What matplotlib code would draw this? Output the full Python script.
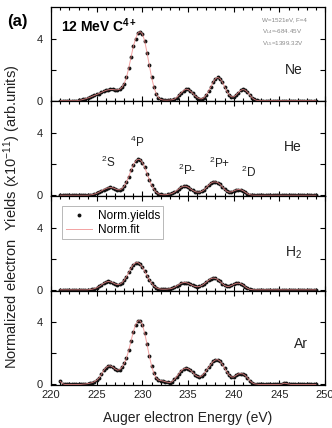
import numpy as np
import matplotlib
matplotlib.use('Agg')
import matplotlib.pyplot as plt
from matplotlib.ticker import MultipleLocator, FixedLocator

plt.rcParams['font.family'] = ['Liberation Sans', 'DejaVu Sans']
plt.rcParams['mathtext.fontset'] = 'custom'
plt.rcParams['mathtext.rm'] = 'Liberation Sans'
plt.rcParams['mathtext.it'] = 'Liberation Sans:italic'
plt.rcParams['mathtext.bf'] = 'Liberation Sans:bold'

# energy grid of the read-off points (eV), 0.25 eV step
energy = np.arange(221.0, 249.01, 0.25)

gases = ['Ne', 'He', 'H$_2$', 'Ar']

ne_yield = [
    0, 0, 0, 0,
    0, 0, 0, 0,
    0.02, 0.04, 0.08, 0.12,
    0.17, 0.22, 0.28, 0.34,
    0.40, 0.46, 0.53, 0.60,
    0.66, 0.70, 0.72, 0.72,
    0.70, 0.70, 0.74, 0.85,
    1.10, 1.50, 2.10, 2.80,
    3.50, 4.00, 4.35, 4.45,
    4.30, 3.85, 3.10, 2.30,
    1.50, 0.90, 0.45, 0.20,
    0.08, 0.04, 0.03, 0.03,
    0.04, 0.06, 0.10, 0.20,
    0.35, 0.50, 0.65, 0.74,
    0.72, 0.62, 0.48, 0.32,
    0.20, 0.13, 0.12, 0.20,
    0.38, 0.62, 0.90, 1.20,
    1.42, 1.50, 1.42, 1.20,
    0.90, 0.60, 0.38, 0.25,
    0.25, 0.36, 0.52, 0.66,
    0.72, 0.68, 0.55, 0.38,
    0.20, 0.08, 0.02, 0,
    0, 0, 0, 0,
    0, 0, 0, 0,
    0, 0, 0, 0,
    0, 0, 0, 0,
    0, 0, 0, 0,
    0, 0, 0, 0,
    0,
]

he_yield = [
    0, 0, 0, 0,
    0, 0, 0, 0,
    0, 0, 0, 0,
    0, 0.02, 0.04, 0.08,
    0.13, 0.20, 0.28, 0.36,
    0.43, 0.48, 0.50, 0.48,
    0.42, 0.36, 0.35, 0.42,
    0.58, 0.85, 1.20, 1.60,
    1.95, 2.20, 2.32, 2.30,
    2.10, 1.80, 1.40, 1.00,
    0.65, 0.38, 0.20, 0.10,
    0.05, 0.03, 0.03, 0.05,
    0.08, 0.12, 0.20, 0.30,
    0.42, 0.52, 0.58, 0.58,
    0.52, 0.42, 0.32, 0.24,
    0.20, 0.20, 0.25, 0.35,
    0.50, 0.65, 0.78, 0.85,
    0.86, 0.82, 0.70, 0.55,
    0.38, 0.25, 0.20, 0.22,
    0.28, 0.34, 0.37, 0.36,
    0.30, 0.20, 0.10, 0.04,
    0.01, 0, 0, 0,
    0, 0, 0, 0,
    0, 0, 0, 0,
    0, 0, 0, 0,
    0, 0, 0, 0,
    0, 0, 0, 0,
    0, 0, 0, 0,
    0,
]

h2_yield = [
    0, 0, 0, 0,
    0, 0, 0, 0,
    0, 0, 0, 0,
    0, 0.02, 0.04, 0.08,
    0.14, 0.22, 0.32, 0.42,
    0.50, 0.54, 0.52, 0.46,
    0.38, 0.34, 0.36, 0.45,
    0.62, 0.85, 1.12, 1.40,
    1.62, 1.75, 1.76, 1.65,
    1.45, 1.20, 0.92, 0.65,
    0.42, 0.25, 0.14, 0.08,
    0.05, 0.04, 0.04, 0.05,
    0.07, 0.10, 0.16, 0.25,
    0.34, 0.42, 0.47, 0.47,
    0.42, 0.35, 0.28, 0.22,
    0.20, 0.22, 0.28, 0.38,
    0.50, 0.62, 0.72, 0.76,
    0.74, 0.66, 0.54, 0.40,
    0.28, 0.22, 0.22, 0.28,
    0.35, 0.41, 0.43, 0.40,
    0.32, 0.20, 0.10, 0.04,
    0.01, 0, 0, 0,
    0, 0, 0, 0,
    0, 0, 0, 0,
    0, 0, 0, 0,
    0, 0, 0, 0,
    0, 0, 0, 0,
    0, 0, 0, 0,
    0,
]

ar_yield = [
    0.20, 0.05, 0, 0,
    0, 0, 0, 0,
    0, 0, 0.02, 0.03,
    0.05, 0.08, 0.12, 0.18,
    0.28, 0.42, 0.65, 0.90,
    1.08, 1.18, 1.20, 1.12,
    1.00, 0.92, 0.95, 1.10,
    1.35, 1.70, 2.20, 2.80,
    3.40, 3.85, 4.10, 4.10,
    3.85, 3.30, 2.60, 1.85,
    1.20, 0.72, 0.42, 0.28,
    0.25, 0.22, 0.18, 0.14,
    0.12, 0.18, 0.32, 0.50,
    0.70, 0.88, 1.00, 1.05,
    1.02, 0.92, 0.78, 0.62,
    0.52, 0.48, 0.55, 0.70,
    0.90, 1.10, 1.30, 1.48,
    1.58, 1.60, 1.50, 1.30,
    1.05, 0.80, 0.60, 0.48,
    0.48, 0.58, 0.68, 0.70,
    0.68, 0.58, 0.42, 0.25,
    0.12, 0.04, 0.02, 0,
    0, 0, 0, 0,
    0, 0, 0, 0,
    0, 0.02, 0.08, 0.06,
    0.03, 0, 0, 0,
    0, 0, 0, 0,
    0, 0, 0, 0,
    0,
]

# where the gas name sits in each panel (eV, yield)
gas_label_x = [246.6, 246.5, 246.5, 247.4]
gas_label_y = [2.0, 3.1, 2.4, 2.6]

# state labels in the He panel
state_labels = ['$^2$S', '$^4$P', '$^2$P-', '$^2$P+', '$^2$D']
state_x = [226.2, 229.4, 234.9, 238.5, 241.6]
state_y = [2.15, 3.4, 1.6, 2.05, 1.5]

FIT_COLOR = '#f08a8a'
TEXT_COLOR = '#222222'


def style_axis(ax):
    ax.set_xlim(220, 250)
    ax.set_ylim(-0.05, 6.05)
    ax.xaxis.set_major_locator(MultipleLocator(5))
    ax.xaxis.set_minor_locator(MultipleLocator(1))
    ax.yaxis.set_major_locator(FixedLocator([0, 2, 4]))
    ax.set_yticklabels(['0', '', '4'])
    ax.tick_params(which='both', direction='in', top=True, right=True,
                   labelsize=8, colors='black', labelcolor=TEXT_COLOR, width=0.8)
    ax.tick_params(which='major', length=3.5)
    ax.tick_params(which='minor', length=2)
    ax.tick_params(axis='y', pad=6)
    for s in ax.spines.values():
        s.set_linewidth(0.9)


def plot_panels():
    fig, axes = plt.subplots(4, 1, sharex=True, figsize=(3.32, 4.28), dpi=100)
    fig.subplots_adjust(left=0.154, right=0.979, top=0.984, bottom=0.1, hspace=0)
    series = [ne_yield, he_yield, h2_yield, ar_yield]
    for i, ax in enumerate(axes):
        y = np.array(series[i])
        ax.plot(energy, y, 'o', color='#111111', markersize=2.8, markeredgewidth=0,
                label='Norm.yields', zorder=2)
        ax.plot(energy, y, '-', color=FIT_COLOR, linewidth=0.7, alpha=0.8,
                label='Norm.fit', zorder=3)
        style_axis(ax)
        ax.text(gas_label_x[i], gas_label_y[i], gases[i], fontsize=10,
                ha='center', va='center', color=TEXT_COLOR)

    ax = axes[0]
    ax.text(0.035, 0.8, r'12 MeV C$^{\mathbf{4+}}$', transform=ax.transAxes,
            fontsize=10, fontweight='bold', va='center')
    for k, s in enumerate(['W=1521eV, F=4', 'V$_{L4}$=-684.45V', 'V$_{L5}$=1399.32V']):
        ax.text(0.77, 0.86 - k * 0.125, s, transform=ax.transAxes,
                fontsize=4.5, color='#888888', va='center')

    ax = axes[1]
    for lab, x, yy in zip(state_labels, state_x, state_y):
        ax.text(x, yy, lab, fontsize=8.5, ha='center', va='center', color=TEXT_COLOR)

    ax = axes[2]
    leg = ax.legend(loc='upper left', bbox_to_anchor=(0.04, 0.89), fontsize=8.5,
                    frameon=True, fancybox=False, handlelength=2.2,
                    borderpad=0.3, labelspacing=0.15, handletextpad=0.5,
                    borderaxespad=0)
    leg.get_frame().set_edgecolor('#999999')
    leg.get_frame().set_linewidth(0.6)

    fig.text(0.566, 0.024, 'Auger electron Energy (eV)', ha='center', va='center',
             fontsize=10, color=TEXT_COLOR)
    fig.text(0.038, 0.493, r'Normalized electron  Yields (x10$^{-11}$) (arb.units)',
             rotation=90, ha='center', va='center', fontsize=10.5, color=TEXT_COLOR)
    fig.text(0.021, 0.95, '(a)', fontsize=12, fontweight='bold', va='center')
    fig.savefig('out.png', dpi=100)


def main():
    assert len(energy) == len(ne_yield) == len(he_yield) == len(h2_yield) == len(ar_yield)
    plot_panels()


if __name__ == '__main__':
    main()
